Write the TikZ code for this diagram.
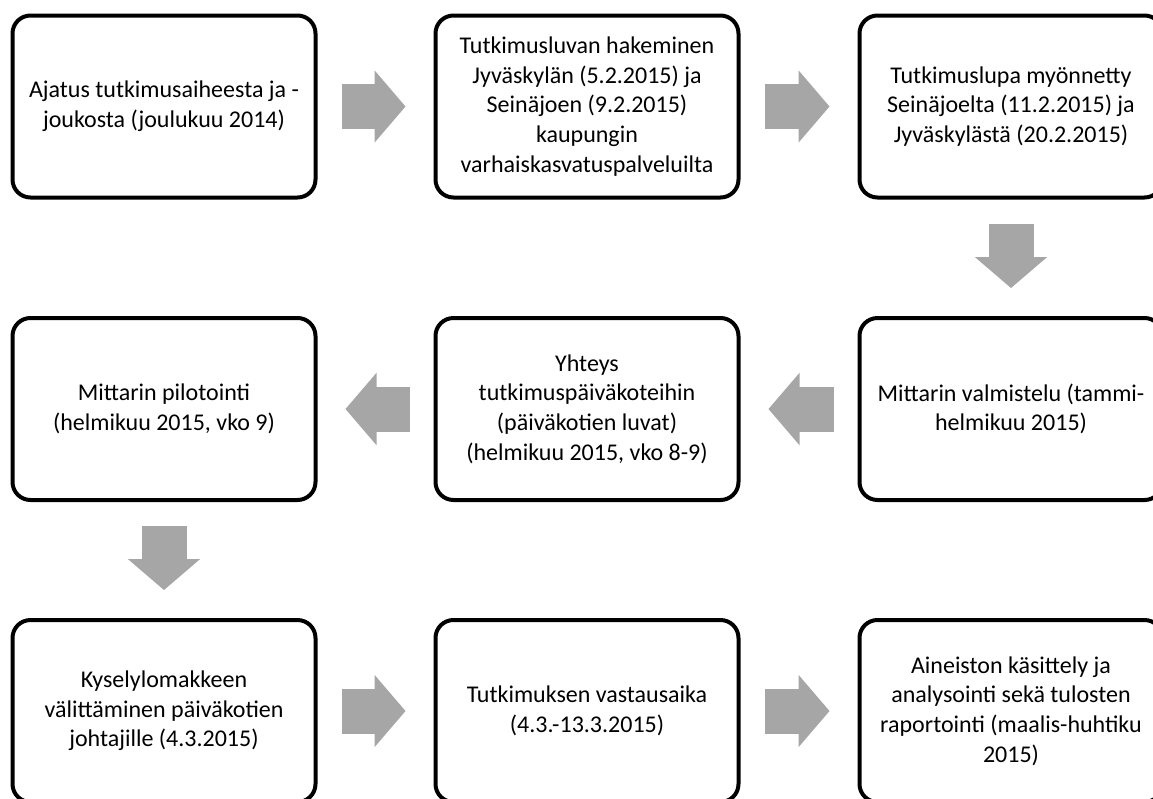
\documentclass[tikz,border=0pt]{standalone}
\usepackage{fontspec}
\setmainfont{Carlito}
\usetikzlibrary{arrows.meta}
\definecolor{nuoliharmaa}{HTML}{A6A6A6}

\begin{document}
\begin{tikzpicture}[x=0.5pt,y=-0.5pt]
		\tikzstyle{vaihe}=[draw,line width=2pt,rounded corners=9pt,minimum width=151.5pt,minimum height=91pt,inner sep=0pt,align=center,font=\fontsize{12pt}{14.8pt}\selectfont]
		\tikzstyle{nuoli}=[draw=nuoliharmaa,line width=22.5pt,-{Triangle[width=36pt,length=15.5pt,line width=1pt]},shorten <=12pt,shorten >=14pt]
		
		\useasboundingbox (0,0) rectangle (1153,799);
		\clip (0,0) rectangle (1153,799);
		
		\node[vaihe](v1) at (164,106.5){Ajatus tutkimusaiheesta ja -\\joukosta (joulukuu 2014)};
		\node[vaihe](v2) at (587,106.5){Tutkimusluvan hakeminen\\Jyväskylän (5.2.2015) ja\\Seinäjoen (9.2.2015)\\kaupungin\\varhaiskasvatuspalveluilta};
		\node[vaihe](v3) at (1011,106.5){Tutkimuslupa myönnetty\\Seinäjoelta (11.2.2015) ja\\Jyväskylästä (20.2.2015)};
		
		\node[vaihe](v4) at (1011,409){Mittarin valmistelu (tammi-\\helmikuu 2015)};
		\node[vaihe](v5) at (587,409){Yhteys\\tutkimuspäiväkoteihin\\(päiväkotien luvat)\\(helmikuu 2015, vko 8-9)};
		\node[vaihe](v6) at (164,409){Mittarin pilotointi\\(helmikuu 2015, vko 9)};
		
		\node[vaihe](v7) at (164,711){Kyselylomakkeen\\välittäminen päiväkotien\\johtajille (4.3.2015)};
		\node[vaihe](v8) at (587,711){Tutkimuksen vastausaika\\(4.3.-13.3.2015)};
		\node[vaihe](v9) at (1011,711){Aineiston käsittely ja\\analysointi sekä tulosten\\raportointi (maalis-huhtiku\\2015)};
		
		\draw[nuoli] (v1) -- (v2);
		\draw[nuoli] (v2) -- (v3);
		\draw[nuoli] (v3) -- (v4);
		\draw[nuoli] (v4) -- (v5);
		\draw[nuoli] (v5) -- (v6);
		\draw[nuoli] (v6) -- (v7);
		\draw[nuoli] (v7) -- (v8);
		\draw[nuoli] (v8) -- (v9);
		\end{tikzpicture}
\end{document}
